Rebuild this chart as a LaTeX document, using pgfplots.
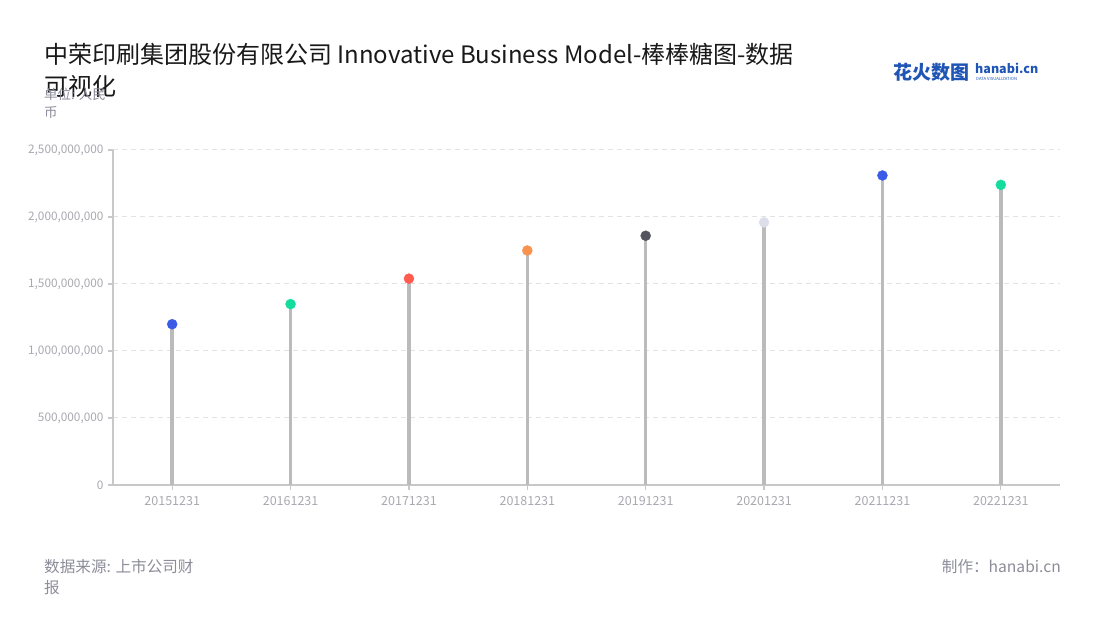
\documentclass[border=0pt]{standalone}
\usepackage{fontspec}
\setmainfont{Noto Sans CJK SC}
\usepackage{pgfplots}
\usepackage{pgfplotstable}
\pgfplotsset{compat=1.18}
\definecolor{cblue}{HTML}{3A5BE8}
\definecolor{cgreen}{HTML}{14DC9C}
\definecolor{cred}{HTML}{FF5B4F}
\definecolor{corange}{HTML}{F7924F}
\definecolor{cdark}{HTML}{55555F}
\definecolor{clight}{HTML}{DCDFEA}
\definecolor{stem}{HTML}{BBBBBB}
\definecolor{axisgray}{HTML}{C8C8C8}
\definecolor{gridgray}{HTML}{E2E2E2}
\definecolor{ticktext}{HTML}{A8A8B0}
\definecolor{subtext}{HTML}{8C8C9A}
\definecolor{logoblue}{HTML}{1F55B5}

\pgfplotstableread{
x y cls
0 1200000000 a
1 1350000000 b
2 1540000000 c
3 1750000000 d
4 1860000000 e
5 1960000000 f
6 2310000000 a
7 2240000000 b
}\lolli

\begin{document}
\begin{tikzpicture}
\path[use as bounding box] (0pt,0pt) rectangle (1100pt,620pt);
\begin{axis}[
  at={(113pt,135pt)}, anchor=south west,
  scale only axis, width=947pt, height=335pt,
  xmin=-0.5, xmax=7.5, ymin=0, ymax=2500000000,
  scaled y ticks=false,
  clip=false,
  axis x line*=bottom, axis y line*=left,
  axis line style={draw=axisgray, line width=1.2pt},
  tick style={draw=axisgray, line width=1.2pt},
  tick align=outside,
  major tick length=5pt,
  xtick={0,1,2,3,4,5,6,7},
  xticklabels={20151231,20161231,20171231,20181231,20191231,20201231,20211231,20221231},
  ytick={0,500000000,1000000000,1500000000,2000000000,2500000000},
  yticklabels={{0},{500,000,000},{1,000,000,000},{1,500,000,000},{2,000,000,000},{2,500,000,000}},
  ymajorgrids,
  grid style={draw=gridgray, line width=1pt, dash pattern=on 5pt off 4pt},
  yticklabel style={font=\fontsize{11.8}{13}\selectfont, text=ticktext, xshift=-1pt},
  xticklabel style={font=\fontsize{12.5}{14}\selectfont, text=ticktext, yshift=-3pt},
]
\addplot[ycomb, draw=stem, line width=3.6pt] table[x=x,y=y]{\lolli};
\addplot[scatter, only marks, mark=*, mark size=5pt,
  scatter src=explicit symbolic,
  scatter/classes={
    a={mark=*,draw=cblue,fill=cblue},
    b={mark=*,draw=cgreen,fill=cgreen},
    c={mark=*,draw=cred,fill=cred},
    d={mark=*,draw=corange,fill=corange},
    e={mark=*,draw=cdark,fill=cdark},
    f={mark=*,draw=clight,fill=clight}}
] table[x=x,y=y,meta=cls]{\lolli};
\end{axis}

% title
\node[anchor=base west, inner sep=0pt, font=\fontsize{24}{28}\selectfont, text=black!90]
  at (44pt,556pt) {中荣印刷集团股份有限公司 Innovative Business Model-棒棒糖图-数据};
\node[anchor=base west, inner sep=0pt, font=\fontsize{24}{28}\selectfont, text=black!90]
  at (44pt,524pt) {可视化};
% unit
\node[anchor=base west, inner sep=0pt, font=\fontsize{13.5}{16}\selectfont, text=subtext]
  at (44pt,520pt) {单位: 人民};
\node[anchor=base west, inner sep=0pt, font=\fontsize{13.5}{16}\selectfont, text=subtext]
  at (44pt,502pt) {币};
% footer
\node[anchor=base west, inner sep=0pt, font=\fontsize{15.6}{18}\selectfont, text=subtext]
  at (44pt,47pt) {数据来源: 上市公司财};
\node[anchor=base west, inner sep=0pt, font=\fontsize{15.6}{18}\selectfont, text=subtext]
  at (44pt,26pt) {报};
\node[anchor=base east, inner sep=0pt, font=\fontsize{15.6}{18}\selectfont, text=subtext]
  at (1061pt,47pt) {制作：hanabi.cn};
% logo
\node[anchor=base west, inner sep=0pt, font=\fontsize{19}{22}\bfseries\selectfont, text=logoblue]
  at (893pt,540pt) {花火数图};
\node[anchor=base west, inner sep=0pt, font=\fontsize{12.5}{15}\bfseries\selectfont, text=logoblue]
  at (975pt,546pt) {hanabi.cn};
\node[anchor=base west, inner sep=0pt, font=\fontsize{4.2}{5}\selectfont, text=logoblue]
  at (976pt,539pt) {DATA VISUALIZATION};
\end{tikzpicture}
\end{document}
